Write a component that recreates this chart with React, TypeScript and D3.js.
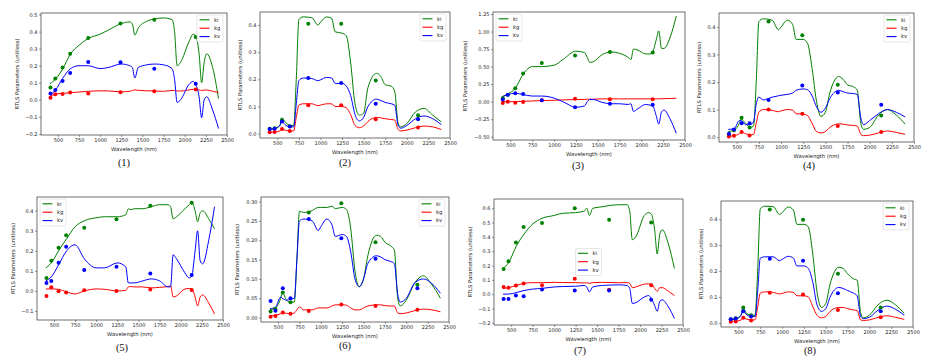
import * as d3 from 'd3'
import { useRef, useEffect } from 'react'

// wavelength grids (nm)
const soilWl = [405, 470, 555, 650, 750, 860, 1000, 1100, 1250, 1350, 1380, 1410, 1450, 1550, 1650, 1750, 1850, 1880, 1910, 1950, 2050, 2100, 2130, 2170, 2200, 2230, 2260, 2330, 2400]
const vegWl = [405, 470, 530, 550, 600, 650, 690, 720, 750, 800, 900, 970, 1000, 1070, 1130, 1170, 1250, 1300, 1350, 1400, 1450, 1500, 1550, 1650, 1700, 1750, 1820, 1860, 1900, 1930, 2000, 2100, 2200, 2300, 2400]
const bandWl = [412, 469, 555, 645, 859, 1240, 1640, 2130]
const xTicks = [500, 750, 1000, 1250, 1500, 1750, 2000, 2250, 2500]
const seriesNames = ['ki', 'kg', 'kv']

// (1)
const p1Ki = [0.095, 0.12, 0.18, 0.27, 0.32, 0.36, 0.385, 0.41, 0.447, 0.457, 0.445, 0.38, 0.42, 0.46, 0.475, 0.48, 0.47, 0.40, 0.2, 0.22, 0.34, 0.385, 0.375, 0.27, 0.1, 0.22, 0.27, 0.19, 0.008]
const p1Kg = [0.02, 0.033, 0.038, 0.042, 0.046, 0.05, 0.053, 0.052, 0.047, 0.05, 0.055, 0.058, 0.056, 0.053, 0.052, 0.05, 0.055, 0.055, 0.052, 0.052, 0.058, 0.062, 0.062, 0.058, 0.055, 0.057, 0.058, 0.05, 0.043]
const p1Kv = [0.03, 0.056, 0.125, 0.183, 0.2, 0.2, 0.183, 0.19, 0.21, 0.2, 0.19, 0.128, 0.19, 0.205, 0.21, 0.205, 0.183, 0.12, -0.015, 0.0, 0.09, 0.108, 0.09, 0.018, -0.105, 0.0, 0.018, -0.06, -0.168]
const p1KiPts = [0.072, 0.125, 0.19, 0.27, 0.362, 0.447, 0.47, 0.368]
const p1KgPts = [0.013, 0.033, 0.035, 0.043, 0.037, 0.045, 0.05, 0.06]
const p1KvPts = [0.037, 0.057, 0.11, 0.158, 0.222, 0.22, 0.183, 0.095]
const p1YTicks = [-0.2, -0.1, 0.0, 0.1, 0.2, 0.3, 0.4, 0.5]

// (2)
const p2Ki = [0.015, 0.02, 0.03, 0.058, 0.04, 0.03, 0.03, 0.2, 0.42, 0.43, 0.427, 0.40, 0.41, 0.43, 0.425, 0.375, 0.37, 0.36, 0.26, 0.11, 0.068, 0.075, 0.17, 0.222, 0.21, 0.18, 0.175, 0.155, 0.037, 0.025, 0.037, 0.08, 0.093, 0.068, 0.043]
const p2Kg = [0.005, 0.006, 0.01, 0.016, 0.012, 0.01, 0.01, 0.06, 0.105, 0.11, 0.11, 0.103, 0.105, 0.11, 0.11, 0.1, 0.1, 0.095, 0.07, 0.03, 0.022, 0.028, 0.045, 0.06, 0.058, 0.055, 0.052, 0.05, 0.015, 0.01, 0.013, 0.022, 0.028, 0.025, 0.015]
const p2Kv = [0.015, 0.018, 0.03, 0.045, 0.03, 0.025, 0.025, 0.11, 0.195, 0.205, 0.203, 0.195, 0.198, 0.207, 0.205, 0.185, 0.185, 0.175, 0.14, 0.07, 0.047, 0.06, 0.1, 0.127, 0.122, 0.115, 0.11, 0.105, 0.03, 0.02, 0.03, 0.055, 0.065, 0.055, 0.033]
const p2KiPts = [0.018, 0.02, 0.05, 0.027, 0.405, 0.405, 0.196, 0.068]
const p2KgPts = [0.005, 0.006, 0.017, 0.01, 0.105, 0.105, 0.053, 0.023]
const p2KvPts = [0.017, 0.018, 0.045, 0.026, 0.205, 0.187, 0.11, 0.053]
const p2YTicks = [0.0, 0.1, 0.2, 0.3, 0.4]

// (3)
const p3Ki = [0.07, 0.11, 0.19, 0.40, 0.5, 0.5, 0.52, 0.6, 0.72, 0.7, 0.63, 0.56, 0.57, 0.67, 0.71, 0.69, 0.63, 0.6, 0.75, 0.74, 0.68, 0.68, 0.71, 0.88, 1.01, 0.76, 0.76, 0.92, 1.22]
const p3Kg = [0.0, 0.0, 0.0, 0.005, 0.01, 0.015, 0.02, 0.025, 0.03, 0.032, 0.035, 0.035, 0.035, 0.04, 0.04, 0.04, 0.04, 0.04, 0.04, 0.04, 0.04, 0.04, 0.04, 0.04, 0.04, 0.042, 0.043, 0.045, 0.05]
const p3Kv = [0.07, 0.1, 0.12, 0.1, 0.08, 0.08, 0.05, 0.0, -0.08, -0.06, 0.0, 0.03, 0.03, -0.01, -0.03, -0.03, -0.04, -0.03, -0.14, -0.11, -0.04, -0.05, -0.06, -0.2, -0.32, -0.15, -0.12, -0.25, -0.45]
const p3KiPts = [0.05, 0.1, 0.19, 0.40, 0.55, 0.66, 0.71, 0.70]
const p3KgPts = [-0.02, 0.0, -0.015, -0.005, 0.02, 0.04, 0.035, 0.035]
const p3KvPts = [0.03, 0.1, 0.12, 0.11, 0.02, -0.08, -0.03, -0.045]
const p3YTicks = [-0.5, -0.25, 0.0, 0.25, 0.5, 0.75, 1.0, 1.25]

// (4)
const p4Ki = [0.02, 0.025, 0.05, 0.065, 0.05, 0.035, 0.04, 0.2, 0.42, 0.43, 0.425, 0.39, 0.4, 0.425, 0.41, 0.355, 0.355, 0.34, 0.25, 0.13, 0.075, 0.09, 0.16, 0.22, 0.21, 0.19, 0.182, 0.17, 0.05, 0.028, 0.035, 0.08, 0.1, 0.08, 0.047]
const p4Kg = [0.003, 0.005, 0.012, 0.018, 0.012, 0.008, 0.01, 0.05, 0.09, 0.1, 0.097, 0.092, 0.095, 0.1, 0.098, 0.085, 0.083, 0.078, 0.05, 0.02, 0.015, 0.02, 0.035, 0.048, 0.047, 0.044, 0.042, 0.04, 0.01, 0.005, 0.007, 0.015, 0.022, 0.017, 0.01]
const p4Kv = [0.028, 0.03, 0.06, 0.06, 0.045, 0.045, 0.055, 0.12, 0.145, 0.135, 0.145, 0.15, 0.152, 0.155, 0.16, 0.17, 0.175, 0.172, 0.15, 0.11, 0.09, 0.105, 0.14, 0.17, 0.165, 0.16, 0.158, 0.155, 0.07, 0.045, 0.06, 0.085, 0.1, 0.09, 0.073]
const p4KiPts = [0.008, 0.025, 0.07, 0.035, 0.42, 0.37, 0.19, 0.078]
const p4KgPts = [0.002, 0.005, 0.018, 0.006, 0.1, 0.085, 0.04, 0.018]
const p4KvPts = [0.012, 0.027, 0.05, 0.05, 0.135, 0.187, 0.162, 0.117]
const p4YTicks = [0.0, 0.1, 0.2, 0.3, 0.4]

// (5)
const p5Ki = [0.115, 0.14, 0.2, 0.26, 0.32, 0.35, 0.365, 0.37, 0.37, 0.38, 0.41, 0.405, 0.41, 0.41, 0.42, 0.43, 0.43, 0.42, 0.36, 0.37, 0.41, 0.43, 0.44, 0.4, 0.345, 0.39, 0.4, 0.36, 0.31]
const p5Kg = [0.01, 0.01, 0.008, -0.005, -0.015, 0.0, 0.01, 0.008, 0.0, 0.003, 0.02, 0.022, 0.02, 0.02, 0.015, 0.018, 0.022, 0.025, -0.03, -0.025, 0.01, 0.012, 0.01, -0.03, -0.075, -0.03, -0.02, -0.06, -0.115]
const p5Kv = [0.05, 0.07, 0.13, 0.2, 0.23, 0.16, 0.115, 0.115, 0.14, 0.12, 0.04, 0.04, 0.04, 0.05, 0.06, 0.05, 0.02, 0.02, 0.18, 0.16, 0.09, 0.065, 0.075, 0.2, 0.3, 0.15, 0.135, 0.25, 0.42]
const p5KiPts = [0.065, 0.15, 0.215, 0.278, 0.315, 0.358, 0.425, 0.44]
const p5KgPts = [-0.025, 0.018, -0.002, -0.008, 0.003, 0.0, 0.007, 0.005]
const p5KvPts = [0.04, 0.05, 0.14, 0.22, 0.105, 0.12, 0.087, 0.08]
const p5YTicks = [-0.1, 0.0, 0.1, 0.2, 0.3, 0.4]

// (6)
const p6Ki = [0.02, 0.025, 0.05, 0.065, 0.045, 0.04, 0.04, 0.15, 0.275, 0.272, 0.277, 0.285, 0.285, 0.285, 0.288, 0.282, 0.285, 0.28, 0.23, 0.12, 0.08, 0.1, 0.16, 0.213, 0.21, 0.195, 0.185, 0.175, 0.05, 0.03, 0.045, 0.09, 0.108, 0.085, 0.05]
const p6Kg = [0.005, 0.006, 0.01, 0.012, 0.011, 0.01, 0.012, 0.02, 0.028, 0.02, 0.02, 0.025, 0.025, 0.025, 0.03, 0.033, 0.033, 0.032, 0.025, 0.02, 0.02, 0.025, 0.03, 0.033, 0.033, 0.031, 0.03, 0.03, 0.012, 0.01, 0.012, 0.018, 0.022, 0.02, 0.015]
const p6Kv = [0.023, 0.027, 0.053, 0.05, 0.045, 0.048, 0.05, 0.15, 0.25, 0.255, 0.25, 0.225, 0.235, 0.255, 0.24, 0.21, 0.215, 0.21, 0.17, 0.1, 0.08, 0.1, 0.14, 0.16, 0.157, 0.15, 0.145, 0.14, 0.06, 0.04, 0.05, 0.09, 0.1, 0.088, 0.063]
const p6KiPts = [0.016, 0.022, 0.065, 0.04, 0.272, 0.296, 0.195, 0.085]
const p6KgPts = [0.002, 0.004, 0.013, 0.01, 0.017, 0.034, 0.03, 0.02]
const p6KvPts = [0.043, 0.018, 0.076, 0.05, 0.255, 0.205, 0.152, 0.076]
const p6YTicks = [0.0, 0.05, 0.1, 0.15, 0.2, 0.25, 0.3]

// (7)
const p7Ki = [0.18, 0.22, 0.33, 0.42, 0.49, 0.53, 0.55, 0.565, 0.57, 0.58, 0.6, 0.55, 0.6, 0.61, 0.62, 0.625, 0.625, 0.58, 0.38, 0.4, 0.55, 0.57, 0.56, 0.45, 0.28, 0.42, 0.45, 0.35, 0.18]
const p7Kg = [0.04, 0.045, 0.06, 0.075, 0.08, 0.08, 0.082, 0.081, 0.08, 0.078, 0.08, 0.075, 0.08, 0.082, 0.081, 0.08, 0.08, 0.075, 0.045, 0.05, 0.07, 0.072, 0.07, 0.04, 0.02, 0.045, 0.045, 0.02, -0.01]
const p7Kv = [0.0, 0.0, 0.01, 0.025, 0.035, 0.04, 0.05, 0.053, 0.055, 0.06, 0.05, 0.015, 0.05, 0.06, 0.063, 0.065, 0.06, 0.04, -0.065, -0.06, -0.02, -0.01, -0.03, -0.08, -0.12, -0.05, -0.04, -0.09, -0.17]
const p7KiPts = [0.175, 0.23, 0.36, 0.47, 0.497, 0.6, 0.52, 0.5]
const p7KgPts = [0.05, 0.045, 0.06, 0.075, 0.062, 0.107, 0.03, 0.062]
const p7KvPts = [-0.035, -0.035, -0.01, -0.015, 0.032, 0.025, 0.025, -0.04]
const p7YTicks = [-0.2, -0.1, 0.0, 0.1, 0.2, 0.3, 0.4, 0.5, 0.6]

// (8)
const p8Ki = [0.015, 0.018, 0.03, 0.058, 0.035, 0.03, 0.03, 0.2, 0.44, 0.45, 0.448, 0.418, 0.425, 0.447, 0.435, 0.38, 0.38, 0.37, 0.27, 0.12, 0.06, 0.075, 0.15, 0.215, 0.21, 0.19, 0.17, 0.165, 0.04, 0.02, 0.03, 0.07, 0.088, 0.07, 0.037]
const p8Kg = [0.006, 0.007, 0.012, 0.02, 0.014, 0.012, 0.012, 0.06, 0.115, 0.12, 0.118, 0.112, 0.114, 0.12, 0.118, 0.105, 0.105, 0.1, 0.065, 0.03, 0.02, 0.025, 0.045, 0.06, 0.06, 0.055, 0.05, 0.048, 0.012, 0.01, 0.012, 0.022, 0.028, 0.022, 0.014]
const p8Kv = [0.013, 0.015, 0.03, 0.045, 0.03, 0.025, 0.025, 0.12, 0.25, 0.255, 0.255, 0.24, 0.245, 0.257, 0.25, 0.22, 0.22, 0.21, 0.16, 0.07, 0.045, 0.055, 0.1, 0.137, 0.133, 0.125, 0.115, 0.105, 0.025, 0.017, 0.022, 0.05, 0.065, 0.053, 0.03]
const p8KiPts = [0.015, 0.018, 0.06, 0.03, 0.437, 0.398, 0.19, 0.06]
const p8KgPts = [0.005, 0.006, 0.02, 0.01, 0.117, 0.11, 0.05, 0.022]
const p8KvPts = [0.015, 0.017, 0.045, 0.025, 0.248, 0.24, 0.115, 0.045]
const p8YTicks = [0.0, 0.1, 0.2, 0.3, 0.4]

const colors = ['#008000', '#ff0000', '#0000ff']

const panels = [
  { label: '(1)', wl: soilWl, lines: [p1Ki, p1Kg, p1Kv], pts: [p1KiPts, p1KgPts, p1KvPts], box: [41, 13, 227, 135], yDom: [-0.206, 0.509], yTicks: p1YTicks, fmt: '.1f', leg: 'right', cap: [124, 166] },
  { label: '(2)', wl: vegWl, lines: [p2Ki, p2Kg, p2Kv], pts: [p2KiPts, p2KgPts, p2KvPts], box: [260, 12, 450, 138], yDom: [-0.016, 0.448], yTicks: p2YTicks, fmt: '.1f', leg: 'right', cap: [345, 166] },
  { label: '(3)', wl: soilWl, lines: [p3Ki, p3Kg, p3Kv], pts: [p3KiPts, p3KgPts, p3KvPts], box: [493, 12, 685, 140], yDom: [-0.547, 1.279], yTicks: p3YTicks, fmt: '.2f', leg: 'left', cap: [578, 169] },
  { label: '(4)', wl: vegWl, lines: [p4Ki, p4Kg, p4Kv], pts: [p4KiPts, p4KgPts, p4KvPts], box: [719, 13, 914, 142], yDom: [-0.018, 0.451], yTicks: p4YTicks, fmt: '.1f', leg: 'right', cap: [809, 169] },
  { label: '(5)', wl: soilWl, lines: [p5Ki, p5Kg, p5Kv], pts: [p5KiPts, p5KgPts, p5KvPts], box: [37, 197, 223, 320], yDom: [-0.145, 0.4685], yTicks: p5YTicks, fmt: '.1f', leg: 'left', cap: [122, 351] },
  { label: '(6)', wl: vegWl, lines: [p6Ki, p6Kg, p6Kv], pts: [p6KiPts, p6KgPts, p6KvPts], box: [261, 197, 449, 322], yDom: [-0.0114, 0.312], yTicks: p6YTicks, fmt: '.2f', leg: 'right', cap: [345, 349] },
  { label: '(7)', wl: soilWl, lines: [p7Ki, p7Kg, p7Kv], pts: [p7KiPts, p7KgPts, p7KvPts], box: [494, 199, 683, 325], yDom: [-0.216, 0.665], yTicks: p7YTicks, fmt: '.1f', leg: 'center', cap: [580, 354] },
  { label: '(8)', wl: vegWl, lines: [p8Ki, p8Kg, p8Kv], pts: [p8KiPts, p8KgPts, p8KvPts], box: [721, 201, 913, 327], yDom: [-0.0153, 0.47], yTicks: p8YTicks, fmt: '.1f', leg: 'right', cap: [810, 354] },
]

export default function App() {
  const svgRef = useRef(null)
  const width = 936
  const height = 364

  useEffect(() => {
    const svg = d3.select(svgRef.current)
    svg.selectAll('*').remove()
    svg.append('rect').attr('width', width).attr('height', height).attr('fill', 'white')

    const font = 'DejaVu Sans, sans-serif'

    panels.forEach(p => {
      const [x0, y0, x1, y1] = p.box
      const x = d3.scaleLinear().domain([300, 2500]).range([x0, x1])
      const y = d3.scaleLinear().domain(p.yDom).range([y1, y0])
      const g = svg.append('g')

      // axes
      const xAxis = g.append('g')
        .attr('transform', `translate(0,${y1})`)
        .call(d3.axisBottom(x).tickValues(xTicks).tickFormat(d3.format('d')).tickSize(2).tickPadding(1.5))
      const yFmt = d3.format(p.fmt)
      const yAxis = g.append('g')
        .attr('transform', `translate(${x0},0)`)
        .call(d3.axisLeft(y).tickValues(p.yTicks).tickFormat(yFmt).tickSize(2).tickPadding(1.5))
      ;[xAxis, yAxis].forEach(a => {
        a.select('.domain').remove()
        a.selectAll('line').attr('stroke', '#333').attr('stroke-width', 0.5)
        a.selectAll('text').attr('font-family', font).attr('font-size', 5).attr('fill', '#222')
      })

      // lines
      const line = d3.line().x(d => x(d[0])).y(d => y(d[1])).curve(d3.curveMonotoneX)
      p.lines.forEach((vals, i) => {
        g.append('path')
          .datum(p.wl.map((w, j) => [w, vals[j]]))
          .attr('d', line)
          .attr('fill', 'none')
          .attr('stroke', colors[i])
          .attr('stroke-width', 1)
      })
      // points
      p.pts.forEach((vals, i) => {
        g.selectAll(null)
          .data(bandWl.map((w, j) => [w, vals[j]]))
          .enter()
          .append('circle')
          .attr('cx', d => x(d[0]))
          .attr('cy', d => y(d[1]))
          .attr('r', 2)
          .attr('fill', colors[i])
      })

      // frame
      g.append('rect')
        .attr('x', x0).attr('y', y0)
        .attr('width', x1 - x0).attr('height', y1 - y0)
        .attr('fill', 'none').attr('stroke', '#333').attr('stroke-width', 0.7)

      // axis labels
      g.append('text')
        .attr('x', (x0 + x1) / 2).attr('y', y1 + 16)
        .attr('text-anchor', 'middle')
        .attr('font-family', font).attr('font-size', 5.3).attr('fill', '#222')
        .text('Wavelength (nm)')
      const maxChars = d3.max(p.yTicks, t => yFmt(t).length)
      const yl = x0 - (8 + 4 * maxChars)
      g.append('text')
        .attr('transform', `translate(${yl},${(y0 + y1) / 2}) rotate(-90)`)
        .attr('text-anchor', 'middle')
        .attr('dy', '0.35em')
        .attr('font-family', font).attr('font-size', 5.3).attr('fill', '#222')
        .text('RTLS Parameters (unitless)')

      // legend
      const lw = 26, lh = 27
      let lx = x1 - 4 - lw
      let ly = y0 + 2
      if (p.leg === 'left') lx = x0 + 3
      if (p.leg === 'center') {
        lx = (x0 + x1) / 2 - lw / 2
        ly = (y0 + y1) / 2 - lh / 2
      }
      const leg = g.append('g')
      leg.append('rect')
        .attr('x', lx).attr('y', ly).attr('width', lw).attr('height', lh)
        .attr('rx', 1.5)
        .attr('fill', 'white').attr('fill-opacity', 0.8)
        .attr('stroke', '#ccc').attr('stroke-width', 0.5)
      seriesNames.forEach((name, i) => {
        const yy = ly + 4.8 + i * 8.4
        leg.append('line')
          .attr('x1', lx + 2.5).attr('x2', lx + 12.5)
          .attr('y1', yy).attr('y2', yy)
          .attr('stroke', colors[i]).attr('stroke-width', 1.1)
        leg.append('text')
          .attr('x', lx + 17).attr('y', yy)
          .attr('dy', '0.35em')
          .attr('font-family', font).attr('font-size', 5.3).attr('fill', '#222')
          .text(name)
      })

      // caption
      g.append('text')
        .attr('x', p.cap[0]).attr('y', p.cap[1])
        .attr('text-anchor', 'middle')
        .attr('font-family', 'Liberation Serif, serif')
        .attr('font-size', 10.5)
        .attr('fill', '#111')
        .text(p.label)
    })
  }, [])

  return (
    <svg ref={svgRef} width={width} height={height}
      style={{ position: 'absolute', left: 0, top: 0 }}></svg>
  )
}
